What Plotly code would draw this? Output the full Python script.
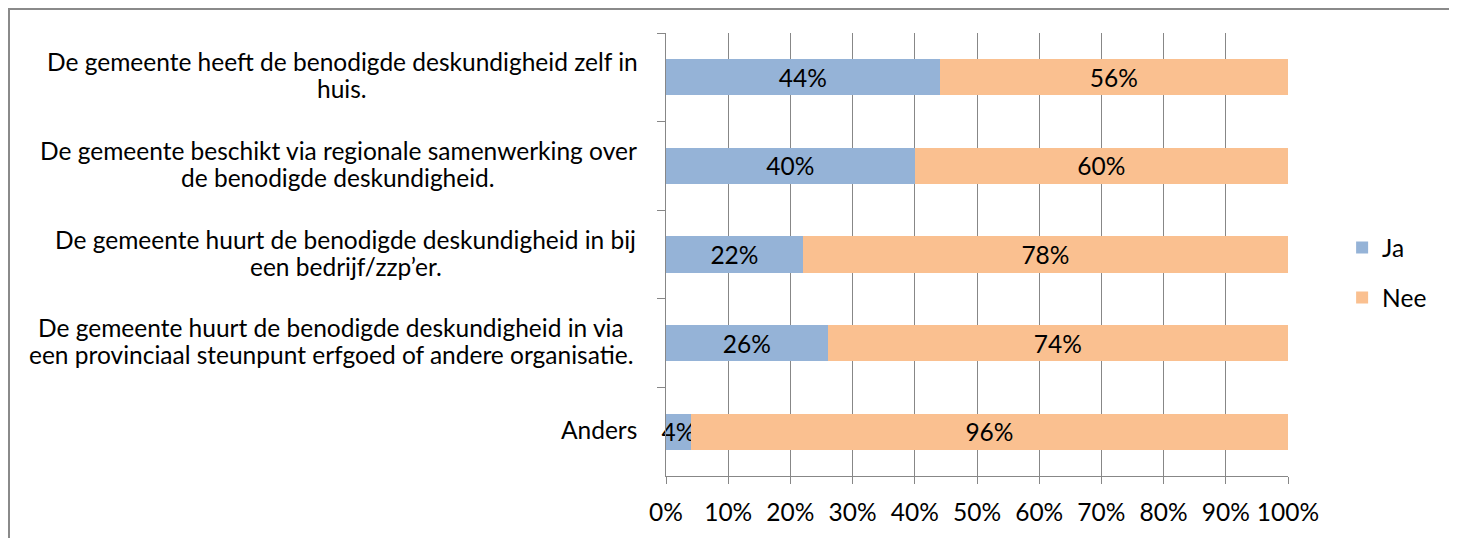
import plotly.graph_objects as go

# category label lines (each category may wrap over two lines)
label_lines = [
    ["De gemeente heeft de benodigde deskundigheid zelf in", "huis."],
    ["De gemeente beschikt via regionale samenwerking over", "de benodigde deskundigheid."],
    ["De gemeente huurt de benodigde deskundigheid in bij", "een bedrijf/zzp’er."],
    ["De gemeente huurt de benodigde deskundigheid in via",
     "een provinciaal steunpunt erfgoed of andere organisatie."],
    ["Anders"],
]
cat_keys = ["c1", "c2", "c3", "c4", "c5"]
ja = [44, 40, 22, 26, 4]
nee = [56, 60, 78, 74, 96]
tick_vals = [0, 10, 20, 30, 40, 50, 60, 70, 80, 90, 100]
tick_text = [f"{v}%" for v in tick_vals]

# page has an 8px body margin; figure coords = page coords - 8
W, H = 1449, 530
L, R, T, B = 658, 169, 25, 62
FONT = "Lato"
FS = 24.5
GRID = "#878787"

fig = go.Figure()
fig.add_trace(go.Bar(
    y=cat_keys, x=ja, name="Ja", orientation="h",
    marker=dict(color="#95B3D7", line=dict(width=0)),
    text=[f"{v}%" for v in ja], textposition="inside", insidetextanchor="middle",
    textangle=0, textfont=dict(color="black", size=FS, family=FONT),
    legendgroup="a", constraintext="none", cliponaxis=False, hoverinfo="x+y",
))
fig.add_trace(go.Bar(
    y=cat_keys, x=nee, name="Nee", orientation="h",
    marker=dict(color="#FAC090", line=dict(width=0)),
    text=[f"{v}%" for v in nee], textposition="inside", insidetextanchor="middle",
    textangle=0, textfont=dict(color="black", size=FS, family=FONT),
    legendgroup="b", constraintext="none", cliponaxis=False, hoverinfo="x+y",
))

# horizontal centre (page px) of each label block, right edge of widest line ~639
label_centers = [342, 338, 345.5, 331, None]
LINE_GAP = 27
for key, lines, cx in zip(cat_keys, label_lines, label_centers):
    n = len(lines)
    for i, line in enumerate(lines):
        off = (i - (n - 1) / 2) * LINE_GAP
        common = dict(
            x=0, y=key, xref="x", yref="y", text=line, showarrow=False,
            yanchor="middle", yshift=-off + 2,
            font=dict(size=FS, family=FONT, color="black"),
        )
        if cx is None:
            fig.add_annotation(xanchor="right", xshift=-(666 - 639), **common)
        else:
            fig.add_annotation(xanchor="center", xshift=-(666 - cx), **common)

pw = W - L - R
ph = H - T - B
fig.add_shape(
    type="rect", xref="paper", yref="paper",
    x0=(1 - L) / pw, x1=(1443 - L) / pw,
    y0=-(B + 20) / ph, y1=1 + (T - 1) / ph,
    line=dict(color="#8a8a8a", width=2), layer="below",
)

fig.update_layout(
    width=W, height=H,
    margin=dict(l=L, r=R, t=T, b=B, pad=0),
    barmode="stack", bargap=0.59,
    plot_bgcolor="white", paper_bgcolor="white",
    font=dict(family=FONT, size=FS, color="black"),
    uniformtext=dict(minsize=FS, mode="show"),
    showlegend=True,
    legend=dict(
        x=1.087, xanchor="left", y=0.459, yanchor="middle",
        font=dict(size=FS, family=FONT), traceorder="grouped",
        tracegroupgap=15, bgcolor="rgba(0,0,0,0)", itemwidth=30,
    ),
    xaxis=dict(
        range=[0, 100], tickvals=tick_vals, ticktext=tick_text,
        showgrid=True, gridcolor=GRID, gridwidth=1,
        showline=True, linecolor=GRID, linewidth=1,
        ticks="outside", ticklen=7, tickcolor=GRID,
        ticklabelstandoff=8, zeroline=False,
        tickfont=dict(size=FS, family=FONT),
    ),
    yaxis=dict(
        categoryorder="array", categoryarray=cat_keys, autorange="reversed",
        showticklabels=False, showgrid=False,
        showline=True, linecolor=GRID, linewidth=1,
        ticks="outside", ticklen=8, tickcolor=GRID, tickson="boundaries",
        zeroline=False,
    ),
)

fig.write_html("out.html")
